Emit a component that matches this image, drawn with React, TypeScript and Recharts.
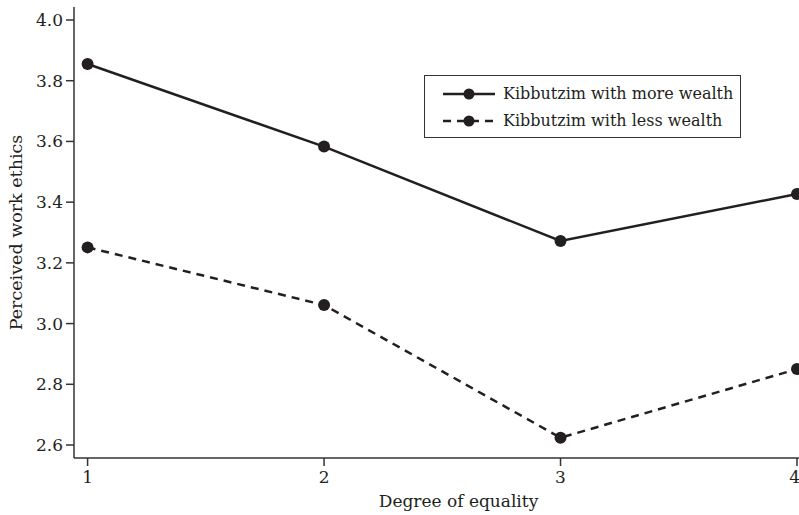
import { LineChart, Line, XAxis, YAxis, Legend } from 'recharts';

const equality = [1, 2, 3, 4];
const moreWealth = [3.855, 3.583, 3.272, 3.427];
const lessWealth = [3.251, 3.061, 2.624, 2.85];
const yTicks = [2.6, 2.8, 3.0, 3.2, 3.4, 3.6, 3.8, 4.0];
const seriesNames = ['Kibbutzim with more wealth', 'Kibbutzim with less wealth'];

const INK = '#231f20';
const FONT = 'DejaVu Serif';

const chartData = equality.map((x, i) => ({
  x,
  more: moreWealth[i],
  less: lessWealth[i],
}));

function LegendBox() {
  return (
    <div
      style={{
        width: 317,
        height: 63,
        border: '1.5px solid #333',
        boxSizing: 'border-box',
        background: '#fff',
        fontFamily: FONT,
        fontSize: 16,
        color: INK,
        paddingTop: 4,
      }}
    >
      {seriesNames.map((name, i) => (
        <div key={name} style={{ display: 'flex', alignItems: 'center', height: 27 }}>
          <svg width={78} height={14} style={{ flexShrink: 0 }}>
            <line
              x1={18}
              x2={70}
              y1={7}
              y2={7}
              stroke={INK}
              strokeWidth={2.5}
              strokeDasharray={i === 1 ? '8 6' : undefined}
            />
            <circle cx={44} cy={7} r={5.5} fill={INK} />
          </svg>
          <span>{name}</span>
        </div>
      ))}
    </div>
  );
}

export default function App() {
  return (
    <div style={{ position: 'absolute', left: 0, top: 0, width: 799, height: 515, overflow: 'hidden', background: '#fff' }}>
      <LineChart width={799} height={515} data={chartData} margin={{ top: 7, right: 0, left: 0, bottom: 0 }}>
        <XAxis
          dataKey="x"
          type="number"
          domain={[0.9425, 4.0085]}
          ticks={equality}
          allowDataOverflow
          height={57}
          stroke="#333"
          strokeWidth={1.5}
          tickSize={8}
          tickMargin={5}
          tick={{ fill: INK, fontFamily: FONT, fontSize: 17 }}
          label={{
            value: 'Degree of equality',
            position: 'insideBottom',
            offset: 8,
            dx: 22,
            fill: INK,
            fontFamily: FONT,
            fontSize: 17,
          }}
        />
        <YAxis
          type="number"
          domain={[2.5572, 4.0428]}
          ticks={yTicks}
          allowDataOverflow
          width={74}
          stroke="#333"
          strokeWidth={1.5}
          tickSize={8}
          tickMargin={3}
          tickFormatter={(v: number) => v.toFixed(1)}
          tick={{ fill: INK, fontFamily: FONT, fontSize: 17 }}
          label={{
            value: 'Perceived work ethics',
            angle: -90,
            position: 'insideLeft',
            offset: 16,
            style: { textAnchor: 'middle' },
            fill: INK,
            fontFamily: FONT,
            fontSize: 17.5,
          }}
        />
        <Legend
          layout="horizontal"
          verticalAlign="middle"
          align="center"
          content={() => <LegendBox />}
          wrapperStyle={{ position: 'absolute', left: 424, top: 75, width: 'auto' }}
        />
        <Line
          dataKey="more"
          stroke={INK}
          strokeWidth={2.5}
          dot={{ r: 6, fill: INK, stroke: INK, strokeWidth: 0 }}
          isAnimationActive={false}
        />
        <Line
          dataKey="less"
          stroke={INK}
          strokeWidth={2.5}
          strokeDasharray="8 6"
          dot={{ r: 6, fill: INK, stroke: INK, strokeWidth: 0, strokeDasharray: '' }}
          isAnimationActive={false}
        />
      </LineChart>
    </div>
  );
}
